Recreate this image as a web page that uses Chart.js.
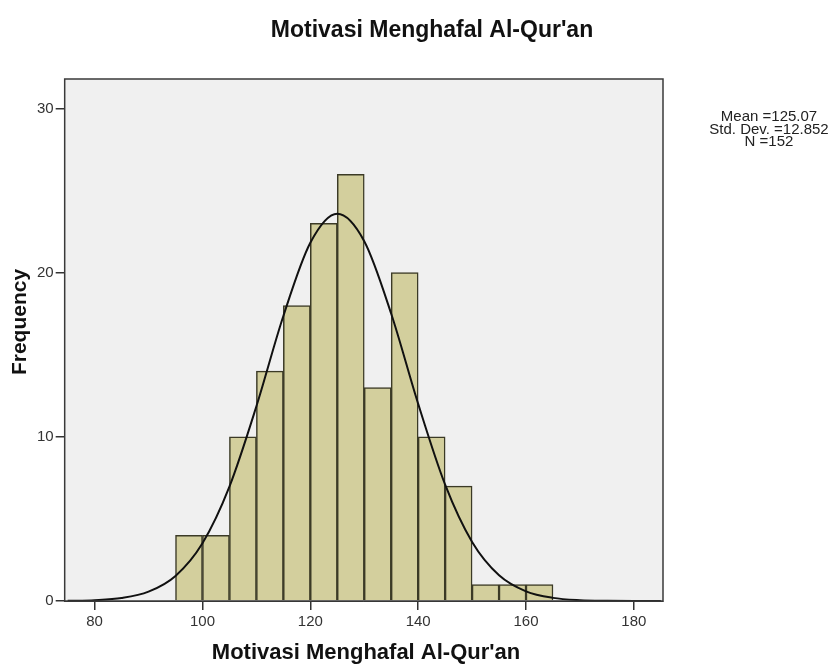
<!DOCTYPE html>
<html>
<head>
  <script src="https://cdn.jsdelivr.net/npm/chart.js"></script>
  <title>Motivasi Menghafal Al-Qur'an</title>
  <style>
    body { margin: 0; background: #fff; }
    #wrap { width: 835px; height: 668px; }
  </style>
</head>
<body>
  <div id="wrap"><canvas id="hist"></canvas></div>
  <script>
    // histogram bins (lower edge, width 5) and counts
    const binStarts = [95, 100, 105, 110, 115, 120, 125, 130, 135, 140, 145, 150, 155, 160];
    const binCounts = [4, 4, 10, 14, 18, 23, 26, 13, 20, 10, 7, 1, 1, 1];
    const binWidth = 5;

    // normal curve
    const curveX = [75, 80, 85, 90, 95, 100, 105, 110, 115, 120, 125, 130, 135, 140, 145, 150, 155, 160, 165, 170, 175, 180, 185];
    const curveY = [0.01, 0.05, 0.18, 0.57, 1.53, 3.52, 6.97, 11.86, 17.36, 21.82, 23.59, 21.92, 17.5, 12.01, 7.09, 3.6, 1.57, 0.59, 0.19, 0.05, 0.01, 0.0, 0.0];

    const xTicks = [80, 100, 120, 140, 160, 180];
    const yTicks = [0, 10, 20, 30];
    const titleText = "Motivasi Menghafal Al-Qur'an";
    const xTitle = "Motivasi Menghafal Al-Qur'an";
    const yTitle = 'Frequency';
    const statLines = ['Mean =125.07', 'Std. Dev. =12.852', 'N =152'];

    const FONT = "'Liberation Sans', Arial, Helvetica, sans-serif";
    Chart.defaults.font.family = FONT;
    Chart.defaults.color = '#333';

    const decor = {
      id: 'decor',
      beforeDraw(chart) {
        const a = chart.chartArea, c = chart.ctx;
        c.save();
        c.fillStyle = '#f0f0f0';
        c.fillRect(a.left, a.top, a.right - a.left, a.bottom - a.top);
        c.restore();
      },
      afterDraw(chart) {
        const a = chart.chartArea, c = chart.ctx;
        c.save();
        c.strokeStyle = '#3a3a3a';
        c.lineWidth = 1.5;
        c.strokeRect(a.left, a.top, a.right - a.left, a.bottom - a.top);

        c.fillStyle = '#111';
        c.textAlign = 'center';
        c.textBaseline = 'alphabetic';
        c.font = 'bold 23px ' + FONT;
        c.fillText(titleText, 432, 37);
        c.font = 'bold 22px ' + FONT;
        c.fillText(xTitle, 366, 659);

        c.save();
        c.translate(26, 322);
        c.rotate(-Math.PI / 2);
        c.font = 'bold 21px ' + FONT;
        c.fillText(yTitle, 0, 0);
        c.restore();

        // stats box text
        c.fillStyle = '#222';
        c.font = '15px ' + FONT;
        c.textBaseline = 'middle';
        statLines.forEach((s, i) => c.fillText(s, 769, 117 + i * 12.5));
        c.restore();
      }
    };

    new Chart(document.getElementById('hist'), {
      type: 'bar',
      data: {
        datasets: [
          {
            type: 'line',
            data: curveX.map((x, i) => ({ x: x, y: curveY[i] })),
            borderColor: '#111',
            borderWidth: 2,
            pointRadius: 0,
            cubicInterpolationMode: 'monotone',
            fill: false,
            order: 0
          },
          {
            data: binStarts.map((s, i) => ({ x: s + binWidth / 2, y: binCounts[i] })),
            backgroundColor: '#d3cf9d',
            borderColor: '#3b3a26',
            borderWidth: 1.5,
            barPercentage: 1,
            categoryPercentage: 1,
            order: 1
          }
        ]
      },
      options: {
        responsive: true,
        maintainAspectRatio: false,
        animation: false,
        layout: { padding: { left: 35, right: 172, top: 79, bottom: 34 } },
        plugins: {
          legend: { display: false },
          tooltip: { enabled: false },
          title: { display: false }
        },
        scales: {
          x: {
            type: 'linear',
            min: 74.45,
            max: 185.4,
            offset: false,
            afterBuildTicks: s => { s.ticks = xTicks.map(v => ({ value: v })); },
            grid: { offset: false, drawOnChartArea: false, drawTicks: true, tickLength: 9, lineWidth: 1.5, color: '#333' },
            border: { display: true, color: '#333' },
            ticks: { padding: 3, font: { size: 15 }, color: '#333', maxRotation: 0 }
          },
          y: {
            min: 0,
            max: 31.8,
            afterBuildTicks: s => { s.ticks = yTicks.map(v => ({ value: v })); },
            grid: { drawOnChartArea: false, drawTicks: true, tickLength: 9, lineWidth: 1.5, color: '#333' },
            border: { display: true, color: '#333' },
            ticks: { padding: 2, font: { size: 15 }, color: '#333' }
          }
        }
      },
      plugins: [decor]
    });
  </script>
</body>
</html>
